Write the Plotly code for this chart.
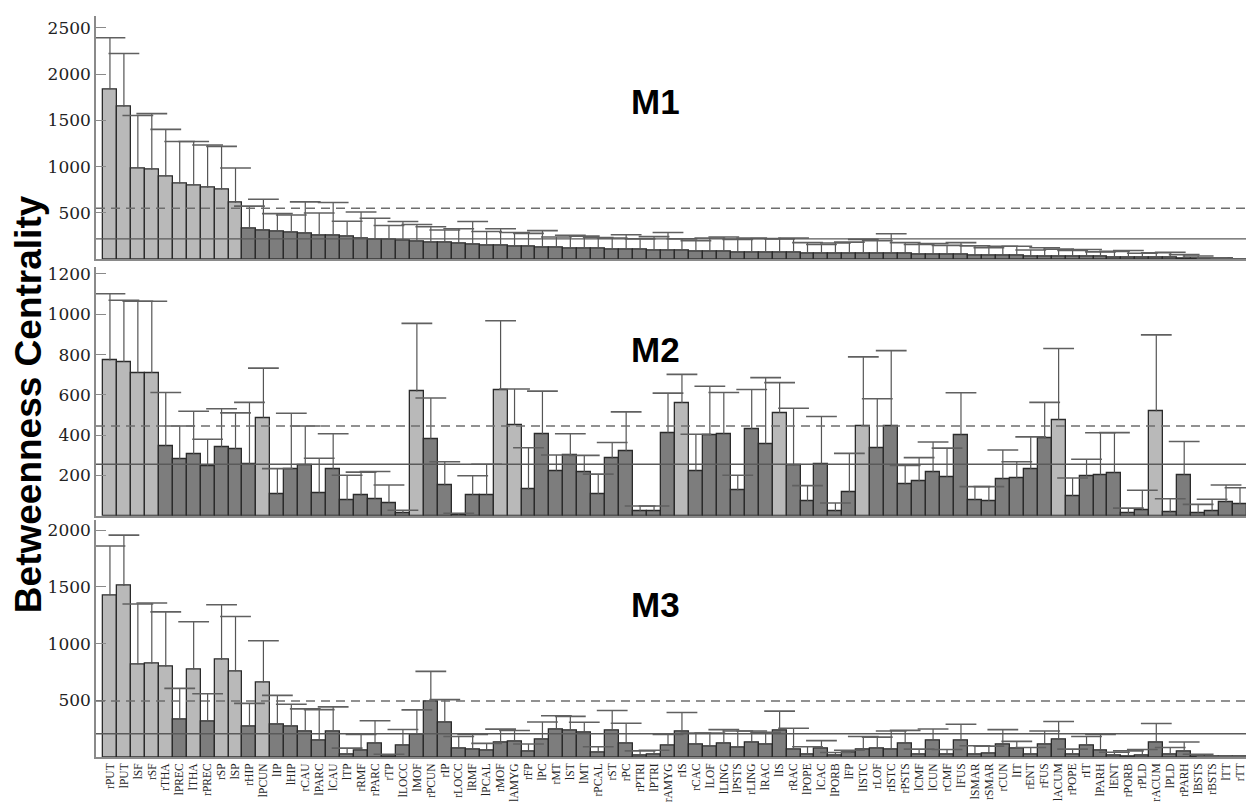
import plotly.graph_objects as go

labels = ["rPUT","lPUT","lSF","rSF","rTHA","lPREC","lTHA","rPREC","rSP","lSP",
          "rHIP","lPCUN","lIP","lHIP","rCAU","lPARC","lCAU","lTP","rRMF","rPARC",
          "rTP","lLOCC","lMOF","rPCUN","rIP","rLOCC","lRMF","lPCAL","rMOF","lAMYG",
          "rFP","lPC","rMT","lST","lMT","rPCAL","rST","rPC","rPTRI","lPTRI",
          "rAMYG","rIS","rCAC","lLOF","lLING","lPSTS","rLING","lRAC","lIS","rRAC",
          "lPOPE","lCAC","lPORB","lFP","lISTC","rLOF","rISTC","rPSTS","lCMF","lCUN",
          "rCMF","lFUS","lSMAR","rSMAR","rCUN","lIT","rENT","rFUS","lACUM","rPOPE",
          "rIT","lPARH","lENT","rPORB","rPLD","rACUM","lPLD","rPARH","lBSTS","rBSTS",
          "lTT","rTT"]

m1 = [1837,1649,986,968,894,819,801,773,755,610, 333,316,295,284,280,262,259,248,227,213,
      213,206,191,184,177,174,163,149,145,140, 135,128,124,120,116,113,110,106,102,98,
      94,90,88,86,82,78,74,72,70,68, 67,66,65,63,62,61,60,58,55,52,
      49,46,43,40,38,36,34,32,30,29, 28,26,24,21,19,16,14,11,8,6, 3,2]
m1_upper = [2394,2223,1553,1574,1404,1273,1273,1234,1220,986, 574,649,493,479,620,500,614,411,511,443,
            365,408,376,351,316,330,408,300,330,290, 280,310,240,260,250,235,230,265,220,245,
            290,220,200,230,240,215,230,225,220,230, 180,160,175,185,215,200,275,180,160,170,
            150,180,145,125,140,140,100,125,110,95, 105,80,85,95,65,70,75,50,35,15, 5,3]

m2 = [771,763,710,709,346,281,305,248,343,330, 256,487,106,232,253,114,232,78,101,83,
      65,11,617,382,150,5,103,105,624,452, 131,403,224,300,217,108,284,320,21,25,
      412,560,224,398,405,126,431,358,511,250, 73,255,21,118,447,338,443,155,170,216,
      193,402,77,73,181,185,232,384,475,98, 196,204,214,13,28,519,16,204,13,25, 67,59]
m2_upper = [1102,1070,1065,1065,612,446,519,380,531,511, 563,733,234,509,446,286,407,201,217,220,
            153,28,955,585,268,13,199,256,968,629, 338,619,302,407,300,207,364,516,49,49,
            609,702,405,643,612,201,627,686,661,534, 150,493,64,310,789,581,820,250,289,366,
            336,611,145,145,327,268,392,563,830,188, 281,412,413,38,127,898,85,369,57,82, 153,139]

m3 = [1426,1508,818,821,795,329,772,309,856,755, 265,656,289,265,222,147,225,24,60,123,
      9,106,202,491,303,78,63,54,132,141, 51,152,245,233,213,36,236,118,18,24,
      102,229,114,93,120,84,126,114,238,63, 24,72,18,39,69,72,66,120,24,144,
      24,150,24,33,108,78,24,114,156,24, 99,60,18,9,15,132,24,48,9,3, 3,3]
m3_upper = [1860,1956,1348,1357,1279,605,1192,558,1342,1238, 473,1024,543,465,424,418,442,78,199,320,
            24,242,415,755,506,181,199,120,246,233, 114,309,364,358,306,90,410,297,54,60,
            199,392,211,211,241,229,229,217,404,253, 90,144,39,60,181,175,229,235,69,247,
            66,289,99,96,241,138,84,229,313,69, 181,199,42,54,66,295,84,132,24,5, 5,5]

panel_names = ["M1", "M2", "M3"]
mean_line = [220, 256, 205]        # solid line
mean_sd_line = [550, 446, 494]     # dashed line
y_ranges = [[0, 2634], [0, 1234], [0, 2085]]
y_ticks = [[500, 1000, 1500, 2000, 2500], [200, 400, 600, 800, 1000, 1200], [500, 1000, 1500, 2000]]

W, H = 1246, 802
ML, MB = 96, 37
PH = H - MB
PW = W - ML

def fy(py):
    return (PH - py) / PH

domains = [[fy(260), fy(12.7)], [fy(520.3), fy(268)], [0.0, fy(525)]]

LIGHT = "#b9b9b9"
DARK = "#7d7d7d"

fig = go.Figure()
series = [(m1, m1_upper), (m2, m2_upper), (m3, m3_upper)]
for k, (vals, ups) in enumerate(series):
    xa = "x" if k == 0 else f"x{k+1}"
    ya = "y" if k == 0 else f"y{k+1}"
    colors = [LIGHT if v > mean_sd_line[k] else DARK for v in vals]
    fig.add_trace(go.Bar(x=labels, y=vals, marker=dict(color=colors, line=dict(color="#2b2b2b", width=1.3)),
                         xaxis=xa, yaxis=ya, showlegend=False, width=1.0))
    ex, ey = [], []
    for lab, v, u in zip(labels, vals, ups):
        ex += [lab, lab, None]
        ey += [v, u, None]
    fig.add_trace(go.Scatter(x=ex, y=ey, mode="lines", line=dict(color="#555555", width=1.2),
                             xaxis=xa, yaxis=ya, showlegend=False, hoverinfo="skip"))
    fig.add_trace(go.Scatter(x=labels, y=ups, mode="markers",
                             marker=dict(symbol="line-ew", size=22, line=dict(color="#606060", width=1.6)),
                             xaxis=xa, yaxis=ya, showlegend=False, hoverinfo="skip"))
    xd = "x domain" if k == 0 else f"x{k+1} domain"
    fig.add_shape(type="line", xref=xd, yref=ya, x0=0, x1=1, y0=mean_sd_line[k], y1=mean_sd_line[k],
                  line=dict(color="#6e6e6e", width=1.5, dash="9px,6px"))
    fig.add_shape(type="line", xref=xd, yref=ya, x0=0, x1=1, y0=mean_line[k], y1=mean_line[k],
                  line=dict(color="#5a5a5a", width=1.4))

axis_common = dict(type="category", categoryorder="array", categoryarray=labels,
                   range=[-1.0, 81.43], showline=True, linecolor="#8a8a8a", linewidth=1.5,
                   ticks="", showgrid=False, zeroline=False)
yaxis_common = dict(showline=True, linecolor="#8a8a8a", linewidth=1.5, ticks="inside", ticklen=10,
                    tickcolor="#8a8a8a", showgrid=False, zeroline=False,
                    tickfont=dict(family="DejaVu Serif", size=17, color="#222222"))

layout = dict(width=W, height=H, margin=dict(l=ML, r=0, t=0, b=MB),
              plot_bgcolor="white", paper_bgcolor="white", bargap=0, showlegend=False)
for k in range(3):
    xk = "xaxis" if k == 0 else f"xaxis{k+1}"
    yk = "yaxis" if k == 0 else f"yaxis{k+1}"
    ya = "y" if k == 0 else f"y{k+1}"
    xa = dict(axis_common, domain=[0, 1], anchor=ya)
    if k < 2:
        xa["showticklabels"] = False
    else:
        xa["tickangle"] = -90
        xa["tickfont"] = dict(family="Liberation Serif", size=11.5, color="#222222")
        xa["tickmode"] = "array"
        xa["tickvals"] = labels
        xa["ticktext"] = labels
    if k > 0:
        xa["matches"] = "x"
    layout[xk] = xa
    layout[yk] = dict(yaxis_common, domain=domains[k], range=y_ranges[k],
                      tickmode="array", tickvals=y_ticks[k],
                      anchor="x" if k == 0 else f"x{k+1}")
fig.update_layout(**layout)

label_py = [100, 352, 610]
for k in range(3):
    fig.add_annotation(text=f"<b>{panel_names[k]}</b>", xref="paper", yref="paper",
                       x=(655 - ML) / PW, y=fy(label_py[k]), showarrow=False,
                       xanchor="center", yanchor="middle",
                       font=dict(family="Liberation Sans", size=35, color="black"))

fig.add_annotation(text="<b>Betweenness Centrality</b>", xref="paper", yref="paper",
                   x=(28 - ML) / PW, y=fy(407), textangle=-90, showarrow=False,
                   xanchor="center", yanchor="middle",
                   font=dict(family="Liberation Sans", size=37, color="black"))

fig.write_html("out.html")
